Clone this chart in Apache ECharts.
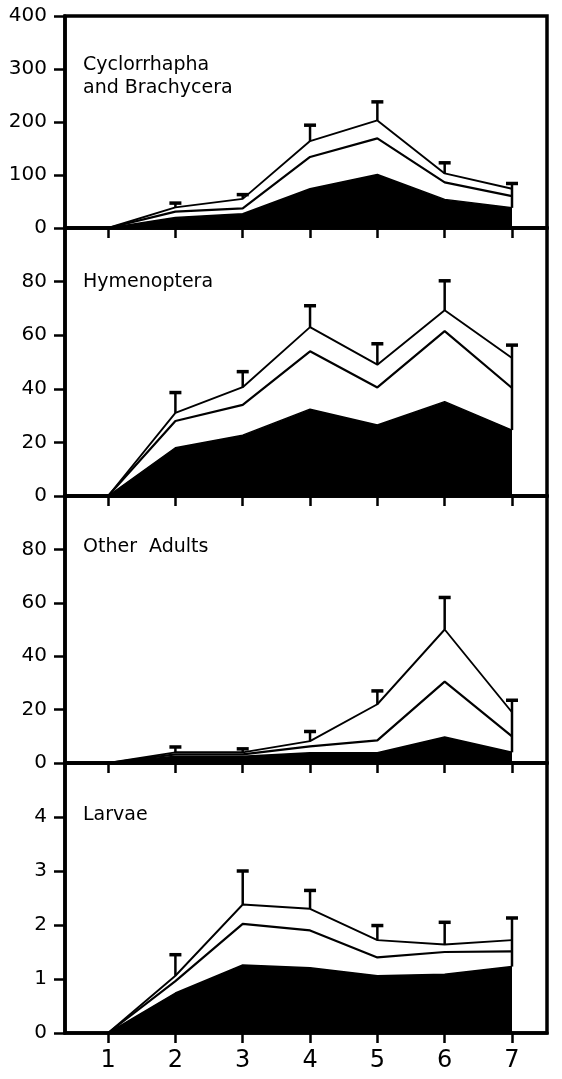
<!DOCTYPE html>
<html>
<head>
<meta charset="utf-8">
<script src="https://cdn.jsdelivr.net/npm/echarts@6/dist/echarts.min.js"></script>
<style>
  html, body { margin: 0; padding: 0; background: #fff; }
  #chart { width: 562px; height: 1079px; }
</style>
</head>
<body>
<div id="chart"></div>
<script>
// Sampling occasions along the x axis
const weeks = [1, 2, 3, 4, 5, 6, 7];
const xTickValues = [1, 2, 3, 4, 5, 6, 7];

// Panel headings and y-axis scales
const panelNames = ['Cyclorrhapha\nand Brachycera', 'Hymenoptera', 'Other  Adults', 'Larvae'];
const yMaxima = [400, 100, 100, 5];
const yIntervals = [100, 20, 20, 1];

// Cyclorrhapha and Brachycera: lower (filled), middle and total levels, upper error limit
const cycloLower  = [0, 20, 27, 74, 101, 54, 38];
const cycloMiddle = [0, 31, 37, 134, 169, 86, 60];
const cycloTotal  = [0, 39, 55, 164, 203, 103, 74];
const cycloError  = [null, 47, 63, 194, 238, 123, 84];

// Hymenoptera
const hymenLower  = [0, 18, 22.7, 32.4, 26.5, 35.2, 24.6];
const hymenMiddle = [0, 28, 34, 54, 40.5, 61.5, 40.3];
const hymenTotal  = [0, 31, 40.6, 63, 49, 69.3, 51.5];
const hymenError  = [null, 38.6, 46.4, 71, 56.8, 80.3, 56.3];

// Other adults
const otherLower  = [0, 2.5, 2.5, 3.8, 3.8, 9.7, 4];
const otherMiddle = [0, 3.2, 3.2, 6.2, 8.5, 30.5, 10];
const otherTotal  = [0, 4, 4, 8.2, 22, 50, 19];
const otherError  = [null, 6, 5.3, 11.8, 27, 62, 23.5];

// Larvae
const larvaeLower  = [0, 0.74, 1.26, 1.21, 1.06, 1.09, 1.23];
const larvaeMiddle = [0, 0.96, 2.02, 1.9, 1.4, 1.5, 1.51];
const larvaeTotal  = [0, 1.06, 2.38, 2.3, 1.72, 1.64, 1.72];
const larvaeError  = [null, 1.45, 3.0, 2.64, 1.99, 2.05, 2.13];

const panels = [
  { lower: cycloLower,  middle: cycloMiddle,  total: cycloTotal,  error: cycloError },
  { lower: hymenLower,  middle: hymenMiddle,  total: hymenTotal,  error: hymenError },
  { lower: otherLower,  middle: otherMiddle,  total: otherTotal,  error: otherError },
  { lower: larvaeLower, middle: larvaeMiddle, total: larvaeTotal, error: larvaeError }
];

// Stacked panel layout (pixels)
const panelBoxes = [
  { top: 16,  height: 212 },
  { top: 228, height: 268 },
  { top: 496, height: 267 },
  { top: 763, height: 270 }
];
const headingTops = [49, 266, 531, 799];

const FONT = 'DejaVu Sans';
const chart = echarts.init(document.getElementById('chart'), null, { renderer: 'canvas' });

const grid = [], xAxis = [], yAxis = [], series = [], title = [];

panels.forEach(function (p, k) {
  const isBottom = k === panels.length - 1;
  grid.push({
    left: 65, right: 15, top: panelBoxes[k].top, height: panelBoxes[k].height,
    show: true, borderColor: '#000', borderWidth: 3.5, backgroundColor: 'transparent'
  });
  xAxis.push({
    type: 'value', gridIndex: k, min: 0.36, max: 7.52,
    axisLine: { show: true, lineStyle: { color: '#000', width: 3.5 } },
    axisTick: { show: true, customValues: xTickValues, length: 10, inside: false,
                lineStyle: { color: '#000', width: 2.5 } },
    axisLabel: { show: isBottom, customValues: xTickValues, margin: 16,
                 color: '#000', fontSize: 24, fontFamily: FONT },
    splitLine: { show: false }
  });
  yAxis.push({
    type: 'value', gridIndex: k, min: 0, max: yMaxima[k], interval: yIntervals[k],
    axisLine: { show: true, lineStyle: { color: '#000', width: 3.5 } },
    axisTick: { show: true, length: 11, inside: false, lineStyle: { color: '#000', width: 2.5 } },
    axisLabel: { color: '#000', fontSize: 20, fontFamily: FONT, margin: 18,
                 showMaxLabel: k === 0 },
    splitLine: { show: false }
  });
  title.push({
    text: panelNames[k], left: 78, top: headingTops[k],
    textStyle: { fontFamily: FONT, fontSize: 19, fontWeight: 'normal', color: '#000', lineHeight: 23 }
  });

  const pairs = function (arr) { return weeks.map(function (w, i) { return [w, arr[i]]; }); };

  series.push({
    type: 'line', xAxisIndex: k, yAxisIndex: k, data: pairs(p.lower),
    symbol: 'none', silent: true, z: 2,
    lineStyle: { color: '#000', width: 1.5 },
    areaStyle: { color: '#000', opacity: 1 }
  });
  series.push({
    type: 'line', xAxisIndex: k, yAxisIndex: k, data: pairs(p.middle),
    symbol: 'none', silent: true, z: 3,
    lineStyle: { color: '#000', width: 2.2 }
  });
  series.push({
    type: 'line', xAxisIndex: k, yAxisIndex: k, data: pairs(p.total),
    symbol: 'none', silent: true, z: 3,
    lineStyle: { color: '#000', width: 1.9 }
  });

  // Upward error bars; at the last occasion the stem also closes the band down to the filled area
  const last = weeks.length - 1;
  const bars = [];
  weeks.forEach(function (w, i) {
    if (p.error[i] == null) return;
    bars.push([w, i === last ? p.lower[i] : p.total[i], p.error[i]]);
  });
  series.push({
    type: 'custom', xAxisIndex: k, yAxisIndex: k, data: bars, silent: true, z: 4,
    encode: { x: 0, y: [1, 2] },
    renderItem: function (params, api) {
      const x = api.value(0);
      const lo = api.coord([x, api.value(1)]);
      const hi = api.coord([x, api.value(2)]);
      return {
        type: 'group',
        children: [
          { type: 'line', shape: { x1: lo[0], y1: lo[1], x2: hi[0], y2: hi[1] },
            style: { stroke: '#000', lineWidth: 2.5 } },
          { type: 'line', shape: { x1: hi[0] - 6, y1: hi[1], x2: hi[0] + 6, y2: hi[1] },
            style: { stroke: '#000', lineWidth: 3.5 } }
        ]
      };
    }
  });
});

chart.setOption({
  animation: false,
  backgroundColor: '#fff',
  title: title,
  grid: grid,
  xAxis: xAxis,
  yAxis: yAxis,
  series: series
});
</script>
</body>
</html>
